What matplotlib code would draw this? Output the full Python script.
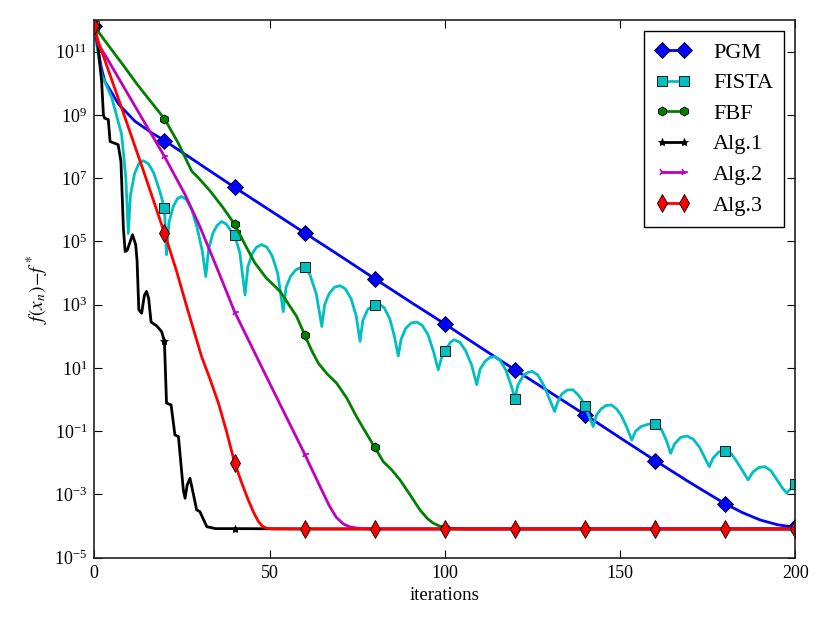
import numpy as np
import matplotlib
matplotlib.use("Agg")
import matplotlib.pyplot as plt
from matplotlib.ticker import FixedLocator, NullLocator

plt.rcParams['font.family'] = ['Liberation Serif', 'DejaVu Serif']
plt.rcParams['mathtext.fontset'] = 'stix'

FLOOR = -4.09

# values stored as log10 of f(x_n) - f*
pgm_x = [0, 1, 2, 3, 7, 11.6, 16.4, 20, 30, 40, 50, 60, 70, 80, 90, 100, 110, 120,
         130, 140, 150, 160, 170, 180, 185, 190, 195, 200]
pgm_log = [11.8, 11.1, 10.5, 10.06, 9.33, 8.80, 8.43, 8.19, 7.45, 6.71, 5.99, 5.27, 4.55,
           3.82, 3.10, 2.39, 1.66, 0.94, 0.23, -0.48, -1.21, -1.93, -2.63, -3.30, -3.58,
           -3.81, -3.96, -4.04]

fista_x = [0, 1, 2.1, 5, 7.8, 9.0, 9.7, 10.3, 11.5, 12.8, 14, 15.5, 17, 18.5, 20, 20.6,
           21.3, 22.5, 23.7, 24.9, 26.3, 27.8, 29.3, 30.8, 31.8, 32.6, 33.8, 35, 36.3,
           37.6, 38.9, 40, 41.5, 43, 43.8, 45, 46.3, 47.7, 49.2, 50.7, 52.3, 53.9, 54.7,
           56, 57.5, 59, 60, 61.5, 63.3, 64.9, 65.7, 67, 68.5, 70.1, 71.6, 73.2, 74.7,
           75.8, 76.6, 78, 80, 81.2, 82.7, 84.3, 85.6, 86.7, 87.5, 88.8, 90.4, 92,
           93.5, 95.2, 96.8, 98.1, 99, 100, 101.5, 102.6, 104.2, 105.9, 107.6, 109.1,
           110, 111.4, 112.8, 114.3, 115.8, 117.4, 118.9, 120, 120.8, 122.3, 123.7,
           124.9, 126.5, 128.2, 129.9, 131.3, 132.1, 133.4, 134.9, 136.5, 138, 139,
           140, 141.2, 142.3, 143.2, 144.5, 145.9, 147.5, 149, 150.4, 151.9, 153.3,
           154.4, 156, 158, 160, 161.8, 163.2, 164.4, 165.5, 167.2, 169, 170.8, 172.6,
           174.2, 175.4, 176.5, 178.2, 180, 181.6, 183.2, 184.9, 186.5, 187.8, 189.5,
           191.3, 193, 194.8, 196.3, 197.5, 198.8, 200]
fista_log = [11.8, 11.0, 10.27, 9.54, 8.38, 7.0, 5.25, 6.45, 7.15, 7.48, 7.55, 7.45, 7.15,
             6.65, 6.06, 4.58, 5.6, 6.1, 6.35, 6.42, 6.32, 6.0, 5.45, 4.7, 3.89, 4.75,
             5.25, 5.5, 5.63, 5.55, 5.35, 5.21, 4.65, 3.31, 4.2, 4.6, 4.82, 4.90, 4.82,
             4.55, 4.0, 2.78, 3.55, 3.9, 4.1, 4.18, 4.18, 3.95, 3.35, 2.31, 3.0, 3.35,
             3.55, 3.60, 3.5, 3.2, 2.65, 1.84, 2.5, 2.85, 2.99, 3.03, 2.9, 2.55, 2.0,
             1.38, 1.9, 2.25, 2.42, 2.45, 2.35, 2.05, 1.5, 0.94, 1.3, 1.52, 1.8, 1.89,
             1.82, 1.55, 1.1, 0.47, 0.95, 1.2, 1.33, 1.36, 1.23, 0.93, 0.45, 0.03,
             0.45, 0.75, 0.86, 0.89, 0.78, 0.45, 0.0, -0.38, -0.1, 0.18, 0.3, 0.31, 0.15,
             0.0, -0.20, -0.55, -0.85, -0.5, -0.3, -0.19, -0.17, -0.3, -0.52, -0.88,
             -1.28, -1.0, -0.85, -0.78, -0.77, -0.95, -1.3, -1.70, -1.4, -1.2, -1.15,
             -1.25, -1.5, -1.85, -2.12, -1.85, -1.65, -1.62, -1.7, -1.95, -2.25, -2.54,
             -2.3, -2.15, -2.12, -2.25, -2.55, -2.8, -2.96, -2.8, -2.67]

fbf_x = [0, 4, 8.8, 12, 16.4, 20, 24, 27.8, 29.7, 33, 36.5, 40, 43, 45.8, 49, 53, 57.7,
         60, 62, 63.9, 66.5, 69.1, 72, 74.8, 77.5, 80, 82.4, 84.8, 87.2, 90, 92.9, 95,
         96.7, 98.5, 100, 103, 106, 120, 140, 160, 180, 200]
fbf_log = [11.8, 11.2, 10.49, 10.0, 9.38, 8.88, 8.1, 7.22, 7.01, 6.6, 6.1, 5.55, 4.9,
           4.32, 3.85, 3.42, 2.63, 2.05, 1.55, 1.15, 0.8, 0.52, 0.05, -0.54, -1.05,
           -1.51, -1.96, -2.22, -2.54, -3.0, -3.49, -3.76, -3.91, -4.0, -4.05, -4.08,
           FLOOR, FLOOR, FLOOR, FLOOR, FLOOR, FLOOR]

alg1_x = [0, 1.1, 2.1, 2.6, 2.9, 4.0, 4.5, 6.8, 7.6, 8.3, 8.8, 9.4, 10.9, 11.8, 12.2,
          12.7, 13.5, 14.3, 14.9, 15.5, 16.2, 17.8, 19.2, 20, 20.6, 21.9, 23, 24, 25.4,
          25.9, 26.5, 27.3, 28.2, 29.2, 30.1, 32.1, 34.6, 40, 60, 80, 100, 120, 140,
          160, 180, 200]
alg1_log = [11.8, 11.12, 10.06, 9.0, 8.9, 8.85, 8.16, 8.06, 7.53, 5.42, 4.68, 4.72, 5.21,
            4.9, 4.4, 2.84, 2.73, 3.3, 3.42, 3.2, 2.45, 2.33, 2.15, 1.84, -0.11, -0.17,
            -1.12, -1.17, -2.86, -3.12, -2.7, -2.49, -2.96, -3.49, -3.54, -4.02, -4.08,
            -4.08, FLOOR, FLOOR, FLOOR, FLOOR, FLOOR, FLOOR, FLOOR, FLOOR]

alg2_x = [0, 1.1, 3, 10, 20, 25.9, 30, 35.4, 40, 50, 60, 64.4, 67, 69, 71, 73, 76, 80,
          100, 120, 140, 160, 180, 200]
alg2_log = [11.8, 11.22, 10.91, 9.58, 7.69, 6.48, 5.5, 4.05, 2.78, 0.52, -1.72, -2.75,
            -3.35, -3.72, -3.93, -4.03, -4.08, FLOOR, FLOOR, FLOOR, FLOOR, FLOOR, FLOOR,
            FLOOR]

alg3_x = [0, 1.1, 7.8, 14, 20, 23.5, 27, 30.6, 33, 35.4, 37.7, 40, 42, 43.9, 45.5, 46.8,
          47.9, 49.2, 51, 60, 80, 100, 120, 140, 160, 180, 200]
alg3_log = [11.8, 11.33, 9.22, 7.24, 5.27, 4.05, 2.7, 1.36, 0.65, -0.11, -1.0, -1.99,
            -2.62, -3.17, -3.58, -3.85, -4.0, -4.07, FLOOR, FLOOR, FLOOR, FLOOR, FLOOR,
            FLOOR, FLOOR, FLOOR, FLOOR]

labels = ['PGM', 'FISTA', 'FBF', 'Alg.1', 'Alg.2', 'Alg.3']
colors = ['#0000ff', '#00bfbf', '#008000', '#000000', '#bf00bf', '#ff0000']
markers = ['D', 's', 'h', '*', '4', 'd']
msizes = [8, 7, 6.5, 6, 6, 9]

fig = plt.figure(figsize=(8.3, 6.23), dpi=100)
ax = fig.add_axes([0.1136, 0.1048, 0.8448, 0.8631])

series = [(pgm_x, pgm_log), (fista_x, fista_log), (fbf_x, fbf_log),
          (alg1_x, alg1_log), (alg2_x, alg2_log), (alg3_x, alg3_log)]
for (xs, ls), lab, c, m, ms in zip(series, labels, colors, markers, msizes):
    xs = np.asarray(xs, float)
    ys = 10.0 ** np.asarray(ls, float)
    idx = [i for i, v in enumerate(xs) if abs(v / 20 - round(v / 20)) < 1e-9]
    mec = c if m == '4' else 'k'
    ax.plot(xs, ys, color=c, lw=2, marker=m, ms=ms, markevery=idx,
            mfc=c, mec=mec, mew=0.6 if m != '4' else 1.2, label=lab)

ax.set_yscale('log')
ax.set_xlim(0, 200)
ax.set_ylim(1e-5, 1e12)
ax.yaxis.set_major_locator(FixedLocator([10.0 ** k for k in range(-5, 12, 2)]))
ax.yaxis.set_minor_locator(NullLocator())
ax.set_xticks([0, 50, 100, 150, 200])
ax.tick_params(direction='in', top=True, right=True, length=6, width=0.8,
               labelsize=13, pad=5)
for s in ax.spines.values():
    s.set_linewidth(1.2)
    s.set_color('#222222')

ax.set_xlabel('iterations', fontsize=13.5, labelpad=4)
ax.set_ylabel(r'$f(x_n)\!-\!f^*$', fontsize=14, labelpad=2)

leg = ax.legend(loc='upper right', fontsize=16, numpoints=2, handlelength=1.6,
                labelspacing=0.45, borderaxespad=0.5, fancybox=False,
                framealpha=1, edgecolor='k', borderpad=0.5, handletextpad=1.0)
leg.get_frame().set_linewidth(1.0)

fig.savefig('out.png', dpi=100)
